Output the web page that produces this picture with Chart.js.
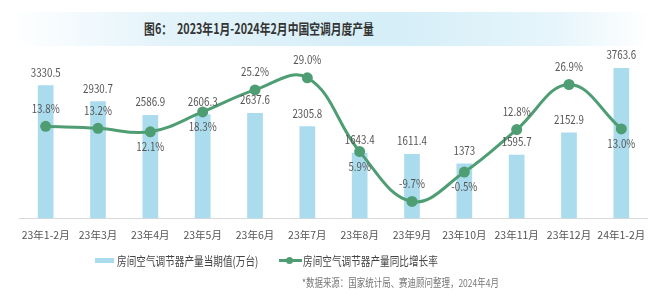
<!DOCTYPE html>
<html>
<head>
<meta charset="utf-8">
<script src="https://cdn.jsdelivr.net/npm/chart.js@4.4.0/dist/chart.umd.min.js"></script>
<style>
  body { margin: 0; background: #fff; font-family: "Noto Sans CJK SC", "Noto Sans", sans-serif; }
  #wrap { position: relative; width: 660px; height: 302px; overflow: hidden; }
  #banner { position: absolute; left: 10px; top: 12px; width: 640px; height: 34px;
    background: linear-gradient(90deg, rgba(255,255,255,0) 0%, #e3f3fa 25%, #d5eef8 60%, #e6f5fb 85%, rgba(255,255,255,0) 100%); }
  #title { position: absolute; left: 259px; top: 28px; transform: translate(-50%, -50%) scaleX(0.77);
    white-space: pre; font-size: 14px; font-weight: bold; color: #333; }
  #canvasBox { position: absolute; left: 0; top: 0; width: 660px; height: 302px; }
  .txt { position: absolute; white-space: nowrap; transform-origin: left center; transform: translateY(-50%) scaleX(0.77); }
  #legend1 { left: 117px; top: 260px; font-size: 12.5px; color: #444; }
  #legend2 { left: 303px; top: 260px; font-size: 12.5px; color: #444; }
  #sw1 { position: absolute; left: 95px; top: 258px; width: 19px; height: 5px; background: #aadcee; }
  #sw2 { position: absolute; left: 279px; top: 259px; width: 23px; height: 3px; background: #4f9e73; }
  #sw2dot { position: absolute; left: 286px; top: 257px; width: 7px; height: 7px; border-radius: 50%; background: #4f9e73; }
  #source { left: 302px; top: 282px; font-size: 11px; color: #777; }
</style>
</head>
<body>
<div id="wrap">
  <div id="banner"></div>
  <div id="title">图6：  2023年1月-2024年2月中国空调月度产量</div>
  <div id="canvasBox"><canvas id="chart" width="660" height="302"></canvas></div>
  <div id="sw1"></div>
  <div class="txt" id="legend1">房间空气调节器产量当期值(万台)</div>
  <div id="sw2"></div><div id="sw2dot"></div>
  <div class="txt" id="legend2">房间空气调节器产量同比增长率</div>
  <div class="txt" id="source">*数据来源：国家统计局、赛迪顾问整理，2024年4月</div>
</div>
<script>
// 月份
const months = ['23年1-2月', '23年3月', '23年4月', '23年5月', '23年6月', '23年7月',
  '23年8月', '23年9月', '23年10月', '23年11月', '23年12月', '24年1-2月'];
// 产量当期值(万台)
const output = [3330.5, 2930.7, 2586.9, 2606.3, 2637.6, 2305.8, 1643.4, 1611.4, 1373, 1595.7, 2152.9, 3763.6];
// 同比增长率(%)
const growth = [13.8, 13.2, 12.1, 18.3, 25.2, 29.0, 5.9, -9.7, -0.5, 12.8, 26.9, 13.0];
// 增长率标签放在点的上方或下方
const growthLabelSide = ['up', 'up', 'down', 'down', 'up', 'up', 'down', 'up', 'down', 'up', 'up', 'down'];

const BAR_COLOR = '#aadcee';
const LINE_COLOR = '#4f9e73';
const LABEL_FONT = '11.5px "Noto Sans CJK SC", "Noto Sans", sans-serif';

// 标签插件：柱顶数值 + 折线百分比
const valueLabels = {
  id: 'valueLabels',
  afterDatasetsDraw(chart) {
    const ctx = chart.ctx;
    ctx.save();
    ctx.font = LABEL_FONT;
    ctx.fillStyle = '#555';
    ctx.textAlign = 'center';
    ctx.textBaseline = 'middle';

    const drawText = (text, x, y) => {
      ctx.save();
      ctx.translate(x, y);
      ctx.scale(0.85, 1);
      ctx.fillText(text, 0, 0);
      ctx.restore();
    };

    chart.getDatasetMeta(1).data.forEach((bar, i) => {
      drawText(String(output[i]), bar.x, bar.y - 13);
    });
    chart.getDatasetMeta(0).data.forEach((pt, i) => {
      const dy = growthLabelSide[i] === 'up' ? -18 : 15;
      drawText(growth[i].toFixed(1) + '%', pt.x, pt.y + dy);
    });
    ctx.restore();
  }
};

new Chart(document.getElementById('chart'), {
  data: {
    labels: months,
    datasets: [
      {
        type: 'line',
        label: '房间空气调节器产量同比增长率',
        data: growth,
        yAxisID: 'y1',
        order: 0,
        borderColor: LINE_COLOR,
        backgroundColor: LINE_COLOR,
        borderWidth: 3,
        tension: 0.4,
        pointRadius: 5.5,
        pointBackgroundColor: LINE_COLOR,
        pointBorderColor: LINE_COLOR,
        pointBorderWidth: 0,
      },
      {
        type: 'bar',
        label: '房间空气调节器产量当期值(万台)',
        data: output,
        yAxisID: 'y',
        order: 1,
        backgroundColor: BAR_COLOR,
        categoryPercentage: 1,
        barPercentage: 0.3,
      }
    ]
  },
  options: {
    responsive: false,
    animation: false,
    devicePixelRatio: 1,
    layout: { padding: { left: 19.5, right: 12.5, top: 58.6, bottom: 51 } },
    plugins: { legend: { display: false }, tooltip: { enabled: false } },
    scales: {
      x: {
        grid: { display: false, drawTicks: false },
        border: { display: true, color: '#d9d9d9', width: 1 },
        ticks: {
          color: '#555',
          font: { family: '"Noto Sans CJK SC", "Noto Sans", sans-serif', size: 10.5 },
          padding: 10,
          maxRotation: 0,
          autoSkip: false,
        }
      },
      y: { display: false, min: 0, max: 4000 },
      y1: { display: false, min: -15, max: 35 }
    }
  },
  plugins: [valueLabels]
});
</script>
</body>
</html>
